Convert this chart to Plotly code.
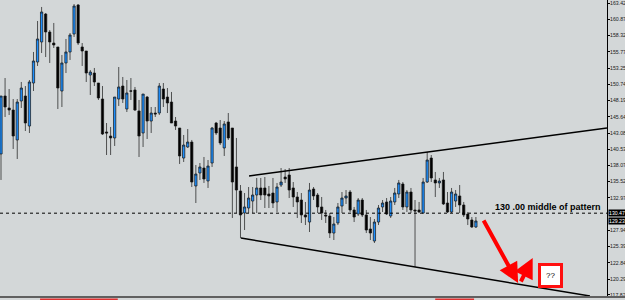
import plotly.graph_objects as go

# ---------------- data ----------------
open_ = [139.83, 148.89, 147.02, 146.70, 142.02, 148.11, 148.89, 144.20, 150.92, 154.20,
         157.33, 161.70, 158.89, 157.17, 156.55, 149.67, 154.05, 155.77, 158.58, 163.11,
         156.55, 155.92, 152.17, 152.48, 150.92, 148.42, 143.27, 142.64, 142.33, 148.42,
         150.45, 146.86, 149.70, 149.83, 146.55, 143.11, 148.73, 144.98, 146.23, 146.23,
         149.98, 148.73, 147.95, 144.98, 143.89, 139.20, 140.92, 141.70, 134.83, 136.86,
         137.64, 135.61, 138.42, 144.67, 143.89, 140.77, 144.83, 143.89, 137.80, 134.05,
         130.61, 131.39, 132.48, 133.42, 134.52, 134.52, 133.58, 133.73, 132.33, 134.98,
         136.23, 136.55, 134.52, 133.11, 132.64, 130.30, 129.20, 134.36, 133.42, 131.55,
         130.30, 130.14, 127.48, 129.05, 131.70, 132.95, 133.89, 131.08, 130.45, 132.64,
         130.30, 128.11, 126.23, 129.20, 131.55, 132.33, 130.14, 132.33, 133.58, 135.14,
         131.55, 133.89, 131.08, 131.08, 130.61, 135.45, 139.20, 135.77, 135.30, 135.77,
         132.17, 130.77, 132.48, 133.27, 131.86, 130.45, 129.52, 128.42]
high = [148.89, 151.70, 149.98, 148.42, 148.42, 151.08, 150.45, 151.39, 155.77, 160.61,
        162.80, 161.86, 159.20, 160.30, 156.55, 155.30, 157.80, 158.73, 163.26, 163.26,
        157.17, 155.92, 152.95, 153.27, 150.92, 150.45, 144.67, 144.05, 148.73, 153.42,
        151.86, 151.39, 151.70, 150.30, 148.27, 149.20, 148.89, 147.17, 147.17, 150.92,
        150.92, 150.14, 149.52, 145.61, 143.89, 142.80, 143.73, 142.02, 138.11, 138.42,
        139.36, 138.89, 144.05, 144.83, 145.14, 144.98, 146.23, 143.89, 142.33, 134.98,
        133.73, 134.67, 134.67, 136.08, 136.08, 136.23, 134.83, 136.08, 135.30, 137.64,
        137.48, 137.64, 135.45, 133.89, 133.73, 132.33, 135.30, 134.67, 133.73, 133.11,
        131.08, 130.61, 129.98, 132.17, 133.89, 134.20, 134.20, 131.55, 132.95, 132.95,
        131.08, 129.98, 129.67, 131.86, 132.64, 132.95, 133.11, 134.52, 135.77, 135.45,
        134.20, 134.52, 132.64, 132.33, 136.08, 140.14, 139.67, 137.02, 136.08, 137.02,
        133.89, 134.52, 134.20, 134.98, 132.33, 130.77, 129.98, 129.98]
low = [135.77, 145.61, 145.92, 140.61, 139.05, 147.02, 143.42, 143.11, 149.67, 153.58,
       155.61, 154.98, 154.05, 156.39, 146.86, 147.17, 152.48, 154.52, 158.11, 156.86,
       153.58, 151.08, 149.05, 150.45, 148.27, 142.80, 139.67, 139.67, 141.08, 147.33,
       147.80, 146.39, 148.27, 146.55, 139.36, 140.92, 142.17, 143.11, 145.61, 145.92,
       147.17, 146.23, 144.67, 143.58, 138.27, 138.58, 140.77, 134.67, 132.17, 135.77,
       135.30, 134.52, 137.80, 142.80, 141.23, 139.52, 142.02, 129.83, 130.61, 126.70,
       127.95, 130.61, 130.61, 130.61, 132.64, 131.39, 131.39, 131.39, 130.77, 134.67,
       135.30, 132.95, 131.55, 129.83, 129.05, 128.73, 127.64, 132.64, 130.61, 129.52,
       129.05, 126.70, 126.39, 128.73, 130.61, 132.02, 130.77, 129.20, 130.14, 129.98,
       127.48, 126.39, 125.92, 128.73, 130.77, 130.30, 129.83, 131.86, 132.95, 131.08,
       130.77, 130.61, 122.17, 130.61, 130.45, 135.30, 135.45, 133.11, 134.52, 131.86,
       130.61, 130.61, 131.55, 130.61, 129.98, 128.73, 128.27, 128.27]
close = [148.89, 147.17, 146.70, 142.64, 147.95, 150.14, 144.67, 151.08, 154.36, 157.80,
         162.02, 158.89, 157.33, 156.86, 150.14, 154.05, 155.77, 158.42, 162.95, 157.17,
         155.92, 152.48, 152.64, 151.08, 148.58, 142.95, 143.11, 142.33, 148.73, 150.30,
         148.42, 149.36, 149.64, 146.70, 142.64, 149.20, 144.98, 146.23, 146.08, 150.45,
         148.42, 147.80, 144.67, 144.20, 139.52, 141.23, 141.70, 135.45, 136.70, 137.80,
         135.92, 137.95, 143.89, 143.11, 141.55, 144.52, 142.33, 135.45, 134.20, 130.30,
         131.55, 132.95, 133.42, 134.52, 133.42, 133.42, 133.27, 132.17, 134.67, 135.45,
         135.92, 134.20, 133.11, 132.33, 130.30, 129.98, 134.20, 133.27, 131.55, 130.61,
         130.14, 127.48, 128.89, 131.55, 132.95, 133.27, 131.08, 129.98, 132.64, 130.30,
         127.95, 127.48, 129.20, 131.39, 132.17, 130.45, 132.48, 133.73, 135.30, 131.55,
         133.89, 131.08, 130.92, 130.77, 135.45, 138.89, 136.08, 135.30, 135.61, 132.02,
         130.77, 133.89, 133.58, 131.86, 130.30, 129.67, 128.42, 129.36]
bars = list(range(len(close)))

tick_values = [163.42, 160.87, 158.32, 155.77, 153.25, 150.74, 148.19, 145.64, 143.08,
               140.53, 138.07, 135.52, 132.97, 127.94, 125.39, 122.84, 120.29, 117.82]
tick_labels = [f"{v:.2f}" for v in tick_values]

level_price = 130.58
level_label = "130.47"
bid_price = 129.36
bid_label = "129.23"

# channel lines (bar index, price)
upper_line_x = [61.1, 149.3]
upper_line_y = [136.39, 143.89]
lower_line_x = [59.1, 145.1]
lower_line_y = [126.70, 117.64]

# red arrows (tail -> head)
arrow1 = dict(tail=(118.7, 129.67), head=(127.4, 119.67))
arrow2 = dict(tail=(127.9, 119.67), head=(131.0, 123.58))
note_pos = (121.2, 131.55)
note_text = "<b>130 .00 middle of pattern</b>"
qbox_pos = (135.4, 120.92)

BG = "#D3D7D8"
AXFONT = "Liberation Sans, Arial"

fig = go.Figure()
fig.add_trace(go.Candlestick(
    x=bars, open=open_, high=high, low=low, close=close,
    increasing=dict(fillcolor="#1E90FF", line=dict(color="#151515", width=0.7)),
    decreasing=dict(fillcolor="#000000", line=dict(color="#151515", width=0.7)),
    whiskerwidth=0, showlegend=False, hoverinfo="skip",
))

shapes = [
    dict(type="line", xref="paper", x0=0, x1=1, yref="y", y0=level_price, y1=level_price,
         line=dict(color="#000", width=1, dash="dot")),
    dict(type="line", xref="x", yref="y", x0=upper_line_x[0], x1=upper_line_x[1],
         y0=upper_line_y[0], y1=upper_line_y[1], line=dict(color="#000", width=1.5)),
    dict(type="line", xref="x", yref="y", x0=lower_line_x[0], x1=lower_line_x[1],
         y0=lower_line_y[0], y1=lower_line_y[1], line=dict(color="#000", width=1.5)),
    # bottom bar
    dict(type="line", xref="paper", yref="paper", x0=0, x1=1.03, y0=-0.003, y1=-0.003,
         line=dict(color="#606060", width=2)),
    dict(type="line", xref="paper", yref="paper", x0=0.066, x1=0.194, y0=-0.011, y1=-0.011,
         line=dict(color="#E03030", width=1.5)),
    dict(type="line", xref="paper", yref="paper", x0=0.717, x1=0.781, y0=-0.011, y1=-0.011,
         line=dict(color="#E03030", width=1.5)),
]

annotations = [
    dict(xref="paper", x=1, xanchor="left", xshift=1, yref="y", y=level_price,
         text=level_label, showarrow=False, bgcolor="#000", borderpad=0,
         font=dict(color="#fff", size=5.2, family=AXFONT)),
    dict(xref="paper", x=1, xanchor="left", xshift=1, yref="y", y=bid_price,
         text=bid_label, showarrow=False, bgcolor="#000", borderpad=0,
         font=dict(color="#fff", size=5.2, family=AXFONT)),
    dict(xref="x", yref="y", x=note_pos[0], y=note_pos[1], xanchor="left",
         text=note_text, showarrow=False,
         font=dict(color="#000", size=9, family="Liberation Sans")),
    dict(xref="x", yref="y", x=qbox_pos[0], y=qbox_pos[1], text="??", showarrow=False,
         bgcolor="#fff", bordercolor="#FF1010", borderwidth=3, borderpad=5,
         font=dict(color="#000", size=8, family="Liberation Sans")),
]
for a in (arrow1, arrow2):
    annotations.append(dict(
        xref="x", yref="y", axref="x", ayref="y",
        x=a["head"][0], y=a["head"][1], ax=a["tail"][0], ay=a["tail"][1],
        text="", showarrow=True, arrowhead=2, arrowsize=1.0, arrowwidth=4,
        arrowcolor="#FF0000", standoff=0, startstandoff=0))

fig.update_layout(
    width=625, height=300,
    margin=dict(l=0, r=18, t=0, b=4, autoexpand=False),
    paper_bgcolor=BG, plot_bgcolor=BG,
    boxgap=0.2,
    shapes=shapes, annotations=annotations,
    xaxis=dict(range=[-0.25, 149.3], visible=False, rangeslider=dict(visible=False),
               showgrid=False, zeroline=False, fixedrange=True, automargin=False),
    yaxis=dict(range=[117.64, 163.89], side="right", showgrid=False, zeroline=False,
               automargin=False, ticklabeloverflow="allow", ticklabelstandoff=-1,
               tickvals=tick_values, ticktext=tick_labels, ticks="outside", ticklen=2,
               tickcolor="#000", showline=True, linecolor="#000", linewidth=1,
               tickfont=dict(size=5.2, color="#202020", family=AXFONT)),
    showlegend=False,
)

fig.write_html("out.html")
